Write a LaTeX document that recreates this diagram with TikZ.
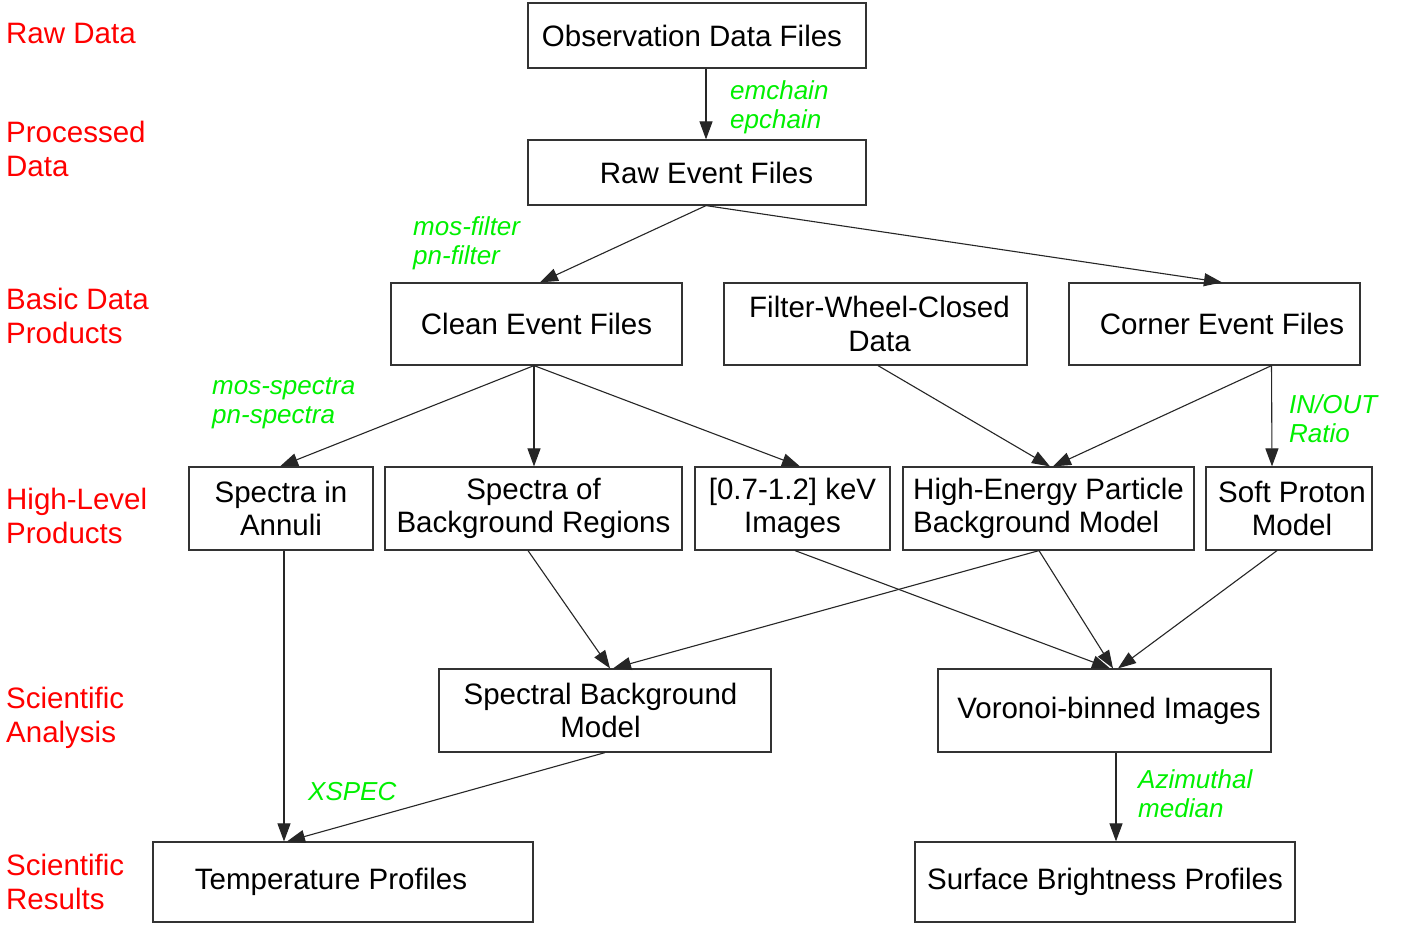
\documentclass[tikz,border=0pt]{standalone}
\usepackage{fontspec}
\setmainfont{Liberation Sans}
\usetikzlibrary{arrows.meta}
\definecolor{lblred}{RGB}{255,0,0}
\definecolor{lblgreen}{RGB}{0,240,0}
\newcommand{\shiftx}[1]{\hspace*{#1}}
\begin{document}
\begin{tikzpicture}[x=1pt,y=-1pt,
  box/.style={draw=black!80, line width=1.2pt, rectangle, inner sep=0pt, align=center, font=\fontsize{29.5}{33.5}\selectfont},
  edge/.style={draw=black!85, line width=1.1pt, -{Triangle[length=18pt,width=13pt]}},
  lvl/.style={anchor=base west, align=left, text=lblred, inner sep=0pt, font=\fontsize{29.5}{33.5}\selectfont},
  tool/.style={anchor=base west, align=left, text=lblgreen, inner sep=0pt, font=\fontsize{26}{29}\selectfont\itshape}]
\useasboundingbox[fill=white] (0,0) rectangle (1413,926);

% level labels (base = baseline of last line)
\node[lvl] (l1) at (6,43) {Raw Data};
\node[lvl] (l2) at (6,176) {Processed\\Data};
\node[lvl] (l3) at (6,343) {Basic Data\\Products};
\node[lvl] (l4) at (6,543) {High-Level\\Products};
\node[lvl] (l5) at (6,742) {Scientific\\Analysis};
\node[lvl] (l6) at (6,909) {Scientific\\Results};

% boxes
\node[box, minimum width=338pt, minimum height=65pt] (obs) at (697,35.5) {\shiftx{-10pt}Observation Data Files};
\node[box, minimum width=338pt, minimum height=65pt] (raw) at (697,172.5) {\shiftx{19pt}Raw Event Files};
\node[box, minimum width=291pt, minimum height=82pt] (clean) at (536.5,324) {Clean Event Files};
\node[box, minimum width=303pt, minimum height=82pt] (fwc) at (875.5,324) {\shiftx{8pt}Filter-Wheel-Closed\\\shiftx{8pt}Data};
\node[box, minimum width=291pt, minimum height=82pt] (corner) at (1214.5,324) {\shiftx{15pt}Corner Event Files};
\node[box, minimum width=184pt, minimum height=83pt] (annuli) at (281,508.5) {Spectra in\\Annuli};
\node[box, minimum width=297pt, minimum height=83pt] (bgreg) at (533.5,508.5) {Spectra of\\Background Regions};
\node[box, minimum width=195pt, minimum height=83pt] (kev) at (792.5,508.5) {[0.7-1.2] keV\\Images};
\node[box, minimum width=291pt, minimum height=83pt, align=left] (hep) at (1048.5,508.5) {High-Energy Particle\\Background Model};
\node[box, minimum width=166pt, minimum height=83pt] (sp) at (1289,508.5) {\shiftx{6pt}Soft Proton\\\shiftx{6pt}Model};
\node[box, minimum width=332pt, minimum height=83pt] (sbm) at (605,710.5) {\shiftx{-9pt}Spectral Background\\\shiftx{-9pt}Model};
\node[box, minimum width=333pt, minimum height=83pt] (vor) at (1104.5,710.5) {\shiftx{9pt}Voronoi-binned Images};
\node[box, minimum width=380pt, minimum height=80pt] (temp) at (343,882) {\shiftx{-24pt}Temperature Profiles};
\node[box, minimum width=380pt, minimum height=80pt] (sbp) at (1105,882) {Surface Brightness Profiles};

% tool labels (base = baseline of last line)
\node[tool] (t1) at (730,128) {emchain\\epchain};
\node[tool] (t2) at (413,264) {mos-filter\\pn-filter};
\node[tool] (t3) at (212,423) {mos-spectra\\pn-spectra};
\node[tool] (t4) at (1289,442) {IN/OUT\\Ratio};
\node[tool] (t5) at (308,800) {XSPEC};
\node[tool] (t6) at (1138,817) {Azimuthal\\median};

% connectors
\draw[edge] ([xshift=9pt]obs.south) -- ([xshift=9pt]raw.north);
\draw[edge] ([xshift=9pt]raw.south) -- ([xshift=3.5pt]clean.north);
\draw[edge] ([xshift=9pt]raw.south) -- ([xshift=7.5pt]corner.north);
\draw[edge] ([xshift=-2.5pt]clean.south) -- ([xshift=-1pt]annuli.north);
\draw[edge] ([xshift=-2.5pt]clean.south) -- ([xshift=0.5pt]bgreg.north);
\draw[edge] ([xshift=-2.5pt]clean.south) -- ([xshift=7.5pt]kev.north);
\draw[edge] ([xshift=2.5pt]fwc.south) -- ([xshift=1.5pt]hep.north);
\draw[edge] ([xshift=57pt]corner.south) -- ([xshift=4.5pt]hep.north);
\draw[edge] ([xshift=57pt]corner.south) -- ([xshift=-17pt]sp.north);
\draw[edge] ([xshift=3pt]annuli.south) -- ([xshift=-59pt]temp.north);
\draw[edge] ([xshift=-5.5pt]bgreg.south) -- ([xshift=5pt]sbm.north);
\draw[edge] ([xshift=-9.5pt]hep.south) -- ([xshift=8pt]sbm.north);
\draw[edge] ([xshift=2.5pt]kev.south) -- ([xshift=5.5pt]vor.north);
\draw[edge] ([xshift=-9.5pt]hep.south) -- ([xshift=8.5pt]vor.north);
\draw[edge] ([xshift=-12pt]sp.south) -- ([xshift=13.5pt]vor.north);
\draw[edge] (sbm.south) -- ([xshift=-56pt]temp.north);
\draw[edge] ([xshift=11.5pt]vor.south) -- ([xshift=11pt]sbp.north);
\end{tikzpicture}
\end{document}
